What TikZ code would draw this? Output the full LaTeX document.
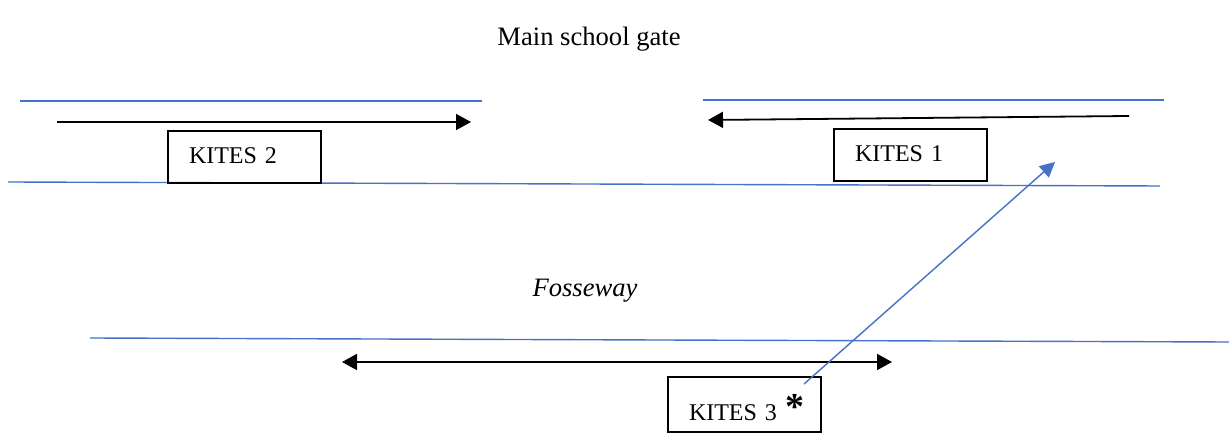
\documentclass[tikz,border=0pt]{standalone}
\usepackage{fontspec}
\setmainfont{Liberation Serif}
\usetikzlibrary{arrows.meta}
\definecolor{roadblue}{RGB}{68,114,196}
\tikzset{
    road/.style={roadblue, line width=0.7pt},
    route/.style={black, line width=0.9pt, -{Triangle[length=7.5pt, width=8pt]}},
    kitebox/.style={draw, line width=1pt, anchor=north west, align=left, text width=55.5pt,
        inner xsep=10.5pt, inner ysep=0pt, text height=16.5pt, text depth=9.5pt}
}
\begin{document}
\begin{tikzpicture}[x=0.5pt, y=-0.5pt, every node/.style={font=\fontsize{12}{14}\selectfont}]
        \useasboundingbox (0,0) rectangle (1229,442);
        % roads
        \draw[road] (20,101) -- (482,101);
        \draw[road] (703,100) -- (1164,100);
        \draw[road] (8,182) -- (1160,186);
        \draw[road] (90,338) -- (1229,342);
        % labels
        \node[anchor=base, font=\fontsize{13.3}{15}\selectfont] (gate) at (589,46) {Main school gate};
        \node[anchor=base, font=\fontsize{13.3}{15}\selectfont\itshape] (fosse) at (585,297) {Fosseway};
        % kites
        \node[kitebox] (kites2) at (167,130) {KITES 2};
        \node[kitebox] (kites1) at (833,128) {KITES 1};
        \node[kitebox, text height=21.5pt, text depth=6pt] (kites3) at (667,376) {KITES 3 \rlap{\raisebox{0.5pt}{\fontsize{19}{19}\selectfont\bfseries *}}};
        % routes
        \coordinate (k2start) at (57,122);
        \coordinate (k2end) at (471,122);
        \coordinate (k1start) at (1129,116);
        \coordinate (k1end) at (708,120);
        \coordinate (k3left) at (342,362);
        \coordinate (k3right) at (892,362);
        \coordinate (k3spot) at (804,384);
        \coordinate (k1spot) at (1055,162);
        \draw[route] (k2start) -- (k2end);
        \draw[route] (k1start) -- (k1end);
        \draw[route, {Triangle[length=7.5pt, width=8pt]}-{Triangle[length=7.5pt, width=8pt]}] (k3left) -- (k3right);
        \draw[road, -{Triangle[length=7.5pt, width=7.5pt]}] (k3spot) -- (k1spot);
    \end{tikzpicture}
\end{document}
